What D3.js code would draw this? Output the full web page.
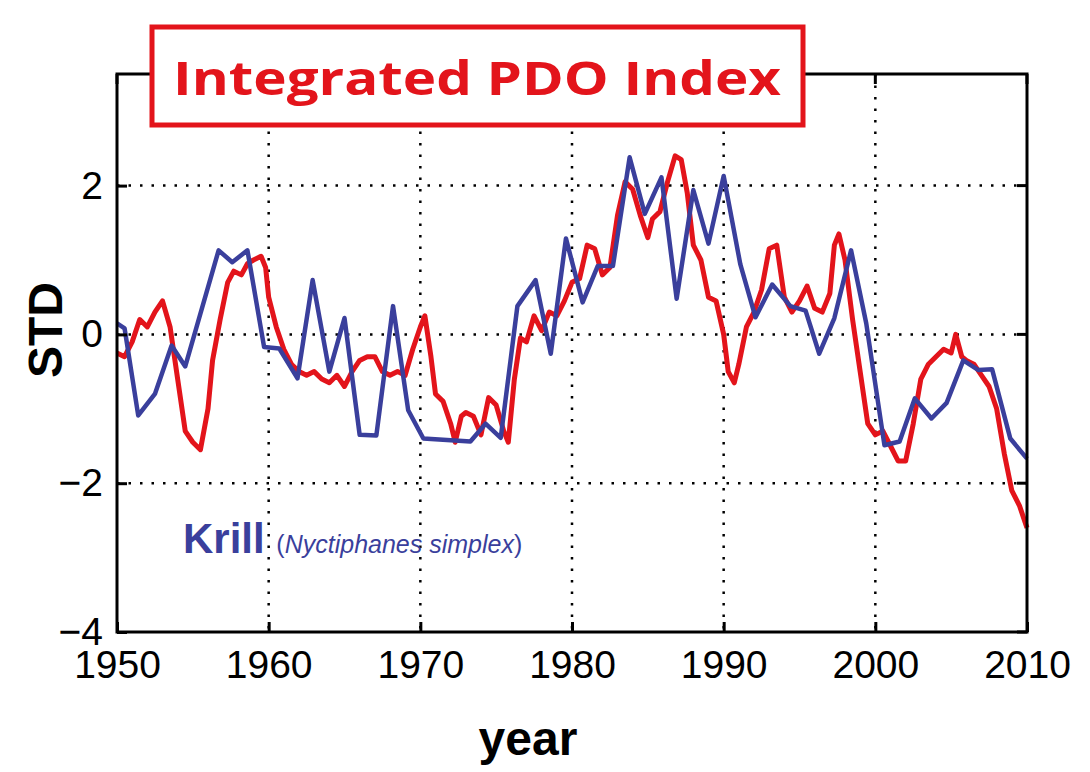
<!DOCTYPE html>
<html>
<head>
<script src="https://cdn.jsdelivr.net/npm/d3@7"></script>
<style>
  body { margin: 0; background: #fff; }
  svg text { font-family: "Liberation Sans", Arial, sans-serif; }
</style>
</head>
<body>
<svg id="chart" width="1090" height="772"></svg>
<script>
// Integrated PDO index (red)
var pdoYears = [1950,1950.5,1951,1951.5,1952,1952.5,1953,1953.5,1954,1954.5,1955,1955.5,1956,1956.3,1956.8,1957.3,1957.7,1958.2,1958.6,1959,1959.5,1959.8,1960,1960.5,1961,1961.5,1962,1962.5,1963,1963.5,1964,1964.5,1965,1965.5,1966,1966.5,1967,1967.5,1968,1968.5,1969,1969.5,1970,1970.3,1970.7,1971,1971.5,1972,1972.3,1972.7,1973,1973.5,1974,1974.5,1975,1975.5,1975.8,1976.2,1976.6,1977,1977.5,1978,1978.5,1979,1979.5,1980,1980.5,1981,1981.5,1982,1982.5,1983,1983.5,1984,1984.5,1985,1985.3,1985.8,1986.3,1986.8,1987.2,1987.6,1988,1988.5,1989,1989.5,1990,1990.3,1990.7,1991,1991.5,1992,1992.5,1993,1993.5,1994,1994.5,1995,1995.5,1996,1996.5,1997,1997.3,1997.6,1998,1998.5,1999,1999.5,2000,2000.5,2001,2001.5,2002,2002.5,2003,2003.5,2004,2004.5,2005,2005.3,2005.7,2006,2006.5,2007,2007.5,2008,2008.5,2009,2009.5,2010];
var pdoValues = [-0.25,-0.3,-0.1,0.2,0.1,0.3,0.45,0.1,-0.6,-1.3,-1.45,-1.55,-1.0,-0.35,0.2,0.7,0.85,0.8,0.95,1.0,1.05,0.9,0.5,0.1,-0.2,-0.4,-0.5,-0.55,-0.5,-0.6,-0.65,-0.55,-0.7,-0.5,-0.35,-0.3,-0.3,-0.5,-0.55,-0.5,-0.55,-0.2,0.1,0.25,-0.3,-0.8,-0.9,-1.2,-1.45,-1.1,-1.05,-1.1,-1.35,-0.85,-0.95,-1.3,-1.45,-0.6,-0.05,-0.1,0.25,0.05,0.3,0.25,0.45,0.7,0.75,1.2,1.15,0.8,0.9,1.6,2.05,1.95,1.6,1.3,1.55,1.65,2.05,2.4,2.35,1.9,1.2,1.0,0.5,0.45,0.0,-0.5,-0.65,-0.4,0.1,0.3,0.6,1.15,1.2,0.5,0.3,0.45,0.65,0.35,0.3,0.55,1.2,1.35,1.0,0.2,-0.5,-1.2,-1.35,-1.3,-1.5,-1.7,-1.7,-1.2,-0.6,-0.4,-0.3,-0.2,-0.25,0.0,-0.3,-0.35,-0.4,-0.55,-0.7,-1.0,-1.6,-2.1,-2.3,-2.6];

// Krill (blue)
var krillYears = [1950,1950.5,1951.4,1952.5,1953.6,1954.5,1956.7,1957.6,1958.6,1959.7,1960.7,1961.9,1962.9,1964.0,1965.0,1966.0,1967.1,1968.2,1969.2,1970.2,1973.3,1974.3,1975.3,1976.4,1977.6,1978.6,1979.6,1980.7,1981.7,1982.7,1983.8,1984.8,1985.9,1986.9,1988.0,1989.0,1990.0,1991.1,1992.1,1993.2,1994.4,1995.4,1996.3,1997.3,1998.4,1999.4,2000.6,2001.6,2002.6,2003.7,2004.7,2005.8,2006.8,2007.7,2008.9,2010];
var krillValues = [0.15,0.08,-1.09,-0.8,-0.15,-0.43,1.13,0.97,1.13,-0.17,-0.19,-0.59,0.73,-0.5,0.22,-1.35,-1.36,0.38,-1.02,-1.4,-1.44,-1.2,-1.39,0.38,0.73,-0.26,1.29,0.43,0.92,0.92,2.38,1.62,2.11,0.48,1.94,1.22,2.13,0.94,0.23,0.67,0.38,0.32,-0.26,0.22,1.13,0.15,-1.49,-1.44,-0.86,-1.13,-0.92,-0.35,-0.48,-0.47,-1.4,-1.67];

var xTicks = [1950,1960,1970,1980,1990,2000,2010];
var yTicks = [-4,-2,0,2];

var pLeft = 117, pRight = 1027, pTop = 74, pBottom = 632;
var svg = d3.select("#chart");
var x = d3.scaleLinear().domain([1950, 2010]).range([pLeft, pRight]);
var y = d3.scaleLinear().domain([-4, 3.5]).range([pBottom, pTop]);

// grid
svg.selectAll(".gx").data(xTicks.slice(1, -1)).enter().append("line")
  .attr("x1", d => x(d)).attr("x2", d => x(d)).attr("y1", pTop).attr("y2", pBottom)
  .attr("stroke", "#000").attr("stroke-width", 2.5).attr("stroke-dasharray", "2.5,9");
svg.selectAll(".gy").data(yTicks.slice(1)).enter().append("line")
  .attr("x1", pLeft).attr("x2", pRight).attr("y1", d => y(d)).attr("y2", d => y(d))
  .attr("stroke", "#000").attr("stroke-width", 2.5).attr("stroke-dasharray", "2.5,9");

// lines
var line = d3.line().x(d => x(d[0])).y(d => y(d[1]));
svg.append("path").datum(d3.zip(pdoYears, pdoValues)).attr("d", line)
  .attr("fill", "none").attr("stroke", "#e3141b").attr("stroke-width", 5).attr("stroke-linejoin", "round");
svg.append("path").datum(d3.zip(krillYears, krillValues)).attr("d", line)
  .attr("fill", "none").attr("stroke", "#3a3f9c").attr("stroke-width", 4.5).attr("stroke-linejoin", "round");

// axes with inward ticks
var xAxis = svg.append("g").attr("transform", "translate(0," + pBottom + ")")
  .call(d3.axisBottom(x).tickValues(xTicks).tickFormat(d3.format("d")).tickSizeInner(-10).tickSizeOuter(0).tickPadding(18));
var yAxis = svg.append("g").attr("transform", "translate(" + pLeft + ",0)")
  .call(d3.axisLeft(y).tickValues(yTicks).tickFormat(d => d < 0 ? "\u2212" + Math.abs(d) : d).tickSizeInner(-10).tickSizeOuter(0).tickPadding(14));
[xAxis, yAxis].forEach(function (g) {
  g.select(".domain").remove();
  g.selectAll("line").attr("stroke", "#000").attr("stroke-width", 3);
  g.selectAll("text").attr("font-size", 39).attr("fill", "#000")
    .style("font-family", "'Liberation Sans', Arial, sans-serif");
});
// top/right ticks
svg.selectAll(".tt").data(xTicks).enter().append("line")
  .attr("x1", d => x(d)).attr("x2", d => x(d)).attr("y1", pTop).attr("y2", pTop + 10)
  .attr("stroke", "#000").attr("stroke-width", 3);
svg.selectAll(".rt").data(yTicks).enter().append("line")
  .attr("x1", pRight).attr("x2", pRight - 10).attr("y1", d => y(d)).attr("y2", d => y(d))
  .attr("stroke", "#000").attr("stroke-width", 3);

// frame
svg.append("rect").attr("x", pLeft).attr("y", pTop).attr("width", pRight - pLeft).attr("height", pBottom - pTop)
  .attr("fill", "none").attr("stroke", "#000").attr("stroke-width", 3);

// title box
svg.append("rect").attr("x", 152).attr("y", 27).attr("width", 651).attr("height", 98)
  .attr("fill", "#fff").attr("stroke", "#e3141b").attr("stroke-width", 5);
svg.append("text").attr("x", 477).attr("y", 95).attr("text-anchor", "middle")
  .attr("font-size", 46).attr("font-weight", "bold").attr("fill", "#e3141b")
  .attr("textLength", 608).attr("lengthAdjust", "spacingAndGlyphs")
  .style("font-family", "'Open Sans', sans-serif").text("Integrated PDO Index");

// krill label
var kl = svg.append("text").attr("x", 183).attr("y", 553).attr("fill", "#3a3f9c");
kl.append("tspan").attr("font-size", 42).attr("font-weight", "bold").text("Krill ");
kl.append("tspan").attr("font-size", 25).text("(");
kl.append("tspan").attr("font-size", 25).attr("font-style", "italic").text("Nyctiphanes simplex");
kl.append("tspan").attr("font-size", 25).text(")");

// axis titles
svg.append("text").attr("x", 528).attr("y", 755).attr("text-anchor", "middle")
  .attr("font-size", 48).attr("font-weight", "bold").text("year");
svg.append("text").attr("transform", "translate(62,330) rotate(-90)").attr("text-anchor", "middle")
  .attr("font-size", 48).attr("font-weight", "bold").text("STD");
</script>
</body>
</html>
